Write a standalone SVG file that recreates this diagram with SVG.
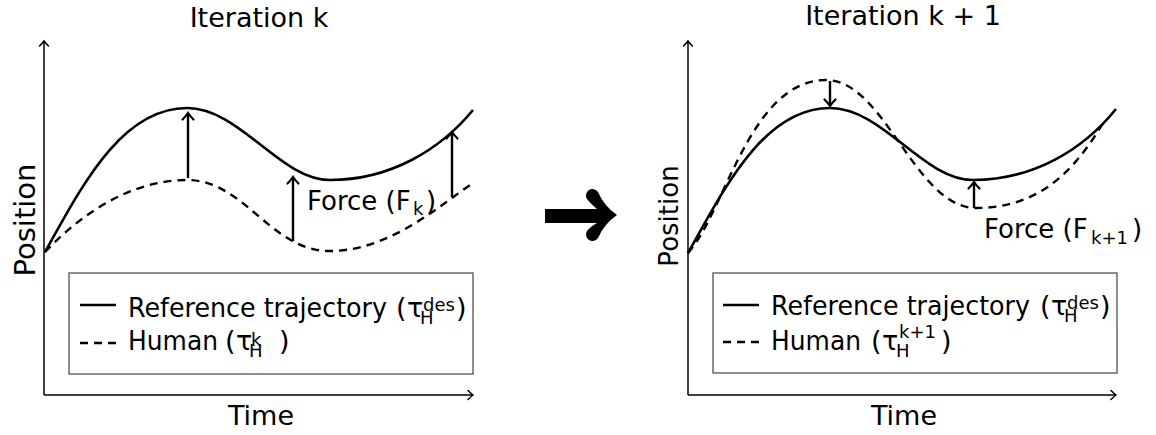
<svg xmlns="http://www.w3.org/2000/svg" width="1156" height="435" viewBox="0 0 1156 435">
<style>
text{font-family:"DejaVu Sans","Liberation Sans",sans-serif;fill:#000}
.t{font-size:27px}
.f{font-size:26px}
.s{font-size:18px}
.axis{fill:none;stroke:#000;stroke-width:1.5}
.curve{fill:none;stroke:#000;stroke-width:2.6}
.dash{fill:none;stroke:#000;stroke-width:2.4;stroke-dasharray:8 6}
.force{fill:none;stroke:#000;stroke-width:2.4}
.box{fill:#fff;stroke:#444;stroke-width:1.2}
</style>
<defs>
<marker id="ah" markerUnits="userSpaceOnUse" viewBox="-10 -7 14 14" markerWidth="14" markerHeight="14" refX="0" refY="0" orient="auto" overflow="visible">
<path d="M-6.5,-5.5 Q-2,-1.2 0,0 Q-2,1.2 -6.5,5.5" fill="none" stroke="#000" stroke-width="2.2" stroke-linecap="round"/>
</marker>
<marker id="ax" markerUnits="userSpaceOnUse" viewBox="-10 -7 14 14" markerWidth="14" markerHeight="14" refX="0" refY="0" orient="auto" overflow="visible">
<path d="M-5,-4.5 Q-1.5,-1 0,0 Q-1.5,1 -5,4.5" fill="none" stroke="#000" stroke-width="1.5" stroke-linecap="round"/>
</marker>
</defs>

<g id="panel-left">
<text class="t" x="259" y="27" text-anchor="middle">Iteration k</text>
<text class="t" x="261" y="425" text-anchor="middle">Time</text>
<text x="35" y="220" font-size="29" text-anchor="middle" transform="rotate(-90 35 220)">Position</text>
<g id="axes-left">
<path class="axis" d="M44,395 V41" marker-end="url(#ax)"/>
<path class="axis" d="M44,395 H473" marker-end="url(#ax)"/>
</g>
<g id="curves-left">
<path id="ref-left" class="curve" d="M45,252 C80,190 120,108 187,108 C240,108 280,180 330,180 C390,180 440,150 473,110"/>
<path id="human-left" class="dash" d="M45,252 C80,215 130,180 187,180 C245,180 270,251 330,251 C390,251 440,205 473,183"/>
</g>
<g id="connectors-left">
<path class="force" d="M188,178 V113" marker-end="url(#ah)"/>
<path class="force" d="M293,241 V177" marker-end="url(#ah)"/>
<path class="force" d="M452,197 V132" marker-end="url(#ah)"/>
</g>
<g id="force-label-left">
<text class="f" x="307" y="210">Force (F</text>
<text class="s" x="413" y="215">k</text>
<text class="f" x="426" y="210">)</text>
</g>
<g id="legend-left">
<rect class="box" x="69" y="273" width="404" height="101"/>
<path class="curve" d="M80,305 H116"/>
<path class="dash" d="M80,343 H116"/>
<text class="t" x="128" y="317" textLength="259" lengthAdjust="spacingAndGlyphs">Reference trajectory</text>
<text class="t" x="396" y="317">(</text>
<text class="t" x="407" y="317">τ</text>
<text class="s" x="420" y="324">H</text>
<text class="s" x="423" y="311">des</text>
<text class="t" x="456" y="317">)</text>
<text class="t" x="128" y="350" textLength="90" lengthAdjust="spacingAndGlyphs">Human</text>
<text class="t" x="225" y="350">(</text>
<text class="t" x="236" y="350">τ</text>
<text class="s" x="249" y="357">H</text>
<text class="s" x="251" y="346">k</text>
<text class="t" x="279" y="350">)</text>
</g>
</g>

<g id="big-arrow">
<path d="M545,209 L597,209 Q590,203 587,199 A6,6 0 0 1 598,192 Q604,206 617,215 Q604,224 598,238 A6,6 0 0 1 587,231 Q590,227 597,223 L545,223 Z" fill="#000"/>
</g>

<g id="panel-right">
<text class="t" x="903" y="25" text-anchor="middle">Iteration k + 1</text>
<text class="t" x="904" y="425" text-anchor="middle">Time</text>
<text x="678" y="216" font-size="26" text-anchor="middle" transform="rotate(-90 678 216)">Position</text>
<g id="axes-right">
<path class="axis" d="M688,395 V41" marker-end="url(#ax)"/>
<path class="axis" d="M688,395 H1116" marker-end="url(#ax)"/>
</g>
<g id="curves-right">
<path id="ref-right" class="curve" d="M688,253 C723,191 763,108 830,108 C883,108 923,180 973,180 C1033,180 1083,150 1116,109"/>
<path id="human-right" class="dash" d="M688,253 C725,212 750,80 826,80 C885,80 915,208 976,208 C1040,208 1075,170 1103,123"/>
</g>
<g id="connectors-right">
<path class="force" d="M830,81 V106" marker-end="url(#ah)"/>
<path class="force" d="M974,208 V182" marker-end="url(#ah)"/>
</g>
<g id="force-label-right">
<text class="f" x="984" y="238">Force (F</text>
<text class="s" x="1091" y="244">k+1</text>
<text class="f" x="1132" y="238">)</text>
</g>
<g id="legend-right">
<rect class="box" x="713" y="273" width="404" height="100"/>
<path class="curve" d="M723,305 H759"/>
<path class="dash" d="M723,342 H759"/>
<text class="t" x="771" y="315" textLength="259" lengthAdjust="spacingAndGlyphs">Reference trajectory</text>
<text class="t" x="1040" y="315">(</text>
<text class="t" x="1051" y="315">τ</text>
<text class="s" x="1064" y="322">H</text>
<text class="s" x="1067" y="309">des</text>
<text class="t" x="1100" y="315">)</text>
<text class="t" x="771" y="350" textLength="90" lengthAdjust="spacingAndGlyphs">Human</text>
<text class="t" x="871" y="350">(</text>
<text class="t" x="882" y="350">τ</text>
<text class="s" x="896" y="357">H</text>
<text class="s" x="899" y="338">k+1</text>
<text class="t" x="941" y="350">)</text>
</g>
</g>
</svg>
